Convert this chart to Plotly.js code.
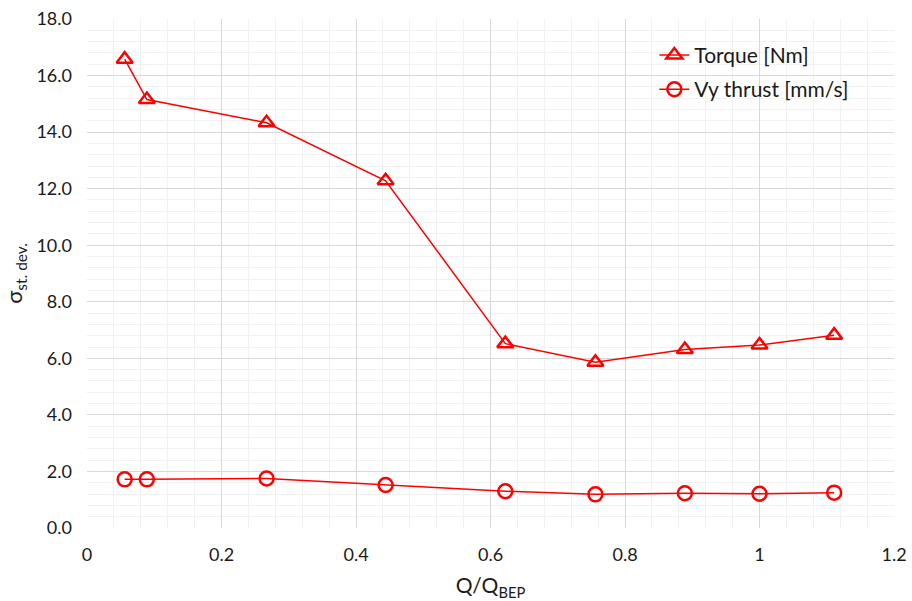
<!DOCTYPE html>
<html>
<head>
<meta charset="utf-8">
<script src="https://cdn.plot.ly/plotly-3.0.1.min.js"></script>
<style>html,body{margin:0;padding:0;background:#fff;}#chart{width:912px;height:601px;}</style>
</head>
<body>
<div id="chart"></div>
<script>
const xValues = [0.056, 0.089, 0.267, 0.444, 0.622, 0.756, 0.889, 1.0, 1.111];
const torque = [16.58, 15.15, 14.33, 12.28, 6.52, 5.86, 6.31, 6.47, 6.82];
const vyThrust = [1.72, 1.72, 1.75, 1.52, 1.30, 1.19, 1.23, 1.21, 1.25];
const seriesNames = ['Torque [Nm]', 'Vy thrust [mm/s]'];

const red = '#ff0000';
const font = 'Lato, "Open Sans", "Liberation Sans", sans-serif';
const txt = '#1a1a1a';

const traces = [
  {
    x: xValues, y: torque, name: seriesNames[0], type: 'scatter', mode: 'lines+markers',
    legendgroup: 'g1',
    line: {color: red, width: 1.5},
    marker: {symbol: 'triangle-up-open', size: 14, color: red, line: {color: red, width: 2.5}}
  },
  {
    x: xValues, y: vyThrust, name: seriesNames[1], type: 'scatter', mode: 'lines+markers',
    legendgroup: 'g2',
    line: {color: red, width: 1.5},
    marker: {symbol: 'circle-open', size: 14, color: red, line: {color: red, width: 2.5}}
  }
];

const layout = {
  width: 912, height: 601,
  margin: {l: 87, r: 18, t: 19, b: 73},
  paper_bgcolor: '#fff', plot_bgcolor: '#fff',
  font: {family: font, size: 18, color: txt},
  showlegend: true,
  legend: {x: 0.703, y: 0.969, xanchor: 'left', yanchor: 'top', bgcolor: 'rgba(0,0,0,0)',
           font: {family: font, size: 21, color: txt}, traceorder: 'grouped', tracegroupgap: 4, itemwidth: 30},
  xaxis: {
    range: [0, 1.2], dtick: 0.2, tick0: 0, showline: false, zeroline: false,
    gridcolor: '#d9d9d9', gridwidth: 1,
    minor: {dtick: 0.04, showgrid: true, gridcolor: '#f2f2f2', gridwidth: 1},
    ticks: '', ticklen: 0, ticklabelstandoff: 14,
    title: {text: 'Q/Q<sub>BEP</sub>', font: {family: font, size: 21, color: txt}, standoff: 14}
  },
  yaxis: {
    range: [0, 18], dtick: 2, tick0: 0, tickformat: '.1f', showline: false, zeroline: false,
    gridcolor: '#d9d9d9', gridwidth: 1,
    minor: {dtick: 0.4, showgrid: true, gridcolor: '#f2f2f2', gridwidth: 1},
    ticks: '', ticklen: 0, ticklabelstandoff: 14,
    title: {text: 'σ<sub>st. dev.</sub>', font: {family: font, size: 22, color: txt}, standoff: 8}
  }
};

Plotly.newPlot('chart', traces, layout, {displayModeBar: false, staticPlot: true});
</script>
</body>
</html>
